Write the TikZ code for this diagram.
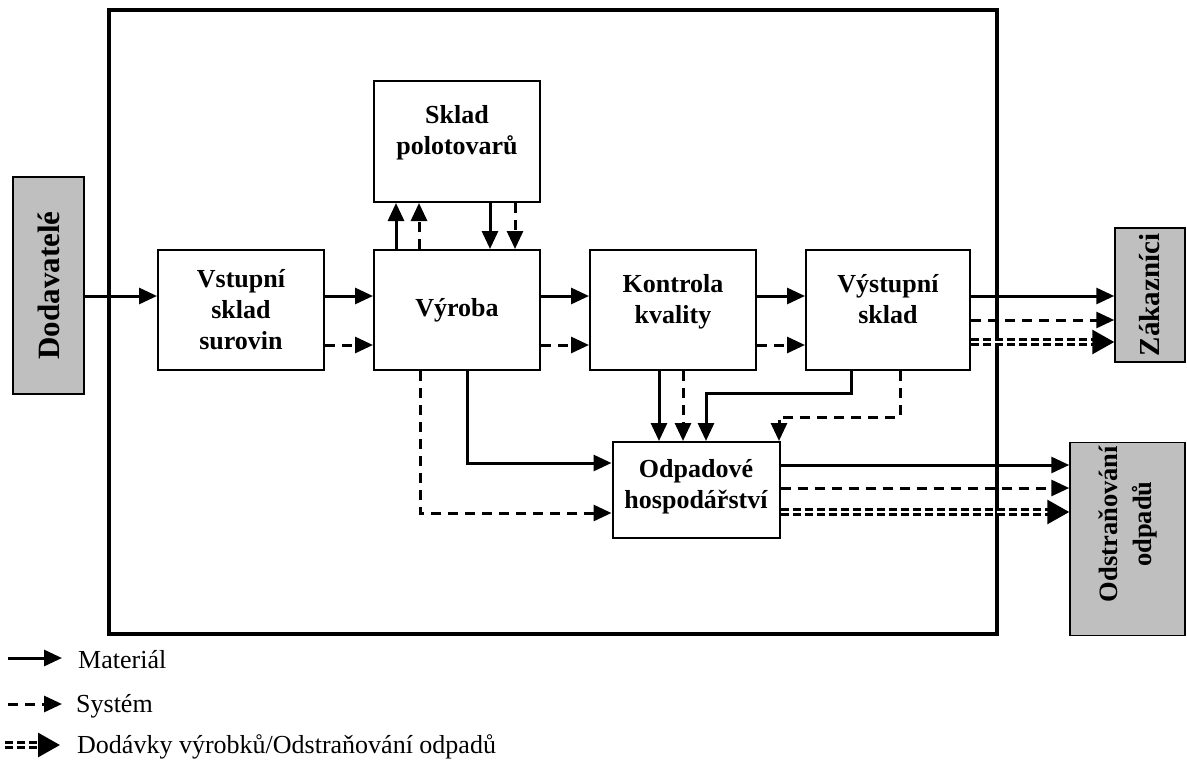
\documentclass[tikz,border=0pt]{standalone}
\usepackage{fontspec}
\setmainfont{Liberation Serif}
\usetikzlibrary{positioning,arrows.meta}

\begin{document}
\begin{tikzpicture}[x=1pt, y=-1pt,
        box/.style = {draw, line width=2pt, minimum width=166pt, minimum height=120pt, align=center,
                      font=\fontsize{26}{31}\selectfont\bfseries},
        ext/.style = {draw, line width=1.5pt, fill=black!25, rotate=90, align=center,
                      font=\fontsize{29}{34}\selectfont\bfseries},
        mat/.style = {line width=3pt, -{Triangle[length=18pt,width=16pt]}},
        sys/.style = {mat, dash pattern=on 10pt off 7pt},
        dlv/.style = {double, double distance=2.5pt, line width=3pt, dash pattern=on 8pt off 4pt,
                      -{Triangle[length=22pt,width=24pt]}},
        leg/.style = {anchor=west, inner sep=0pt, font=\fontsize{26}{30}\selectfont}]
                \useasboundingbox (0,0) rectangle (1187,769);
                
                \draw[line width=4pt] (109,10) rectangle (997,634);
                
                \node[box] (vstup) at (241,310) {Vstupní\\sklad\\surovin};
                \node[box, right=48pt of vstup] (vyroba) {Výroba};
                \node[box, text depth=22pt, right=48pt of vyroba] (kontrola) {Kontrola\\kvality};
                \node[box, text depth=22pt, minimum width=164pt, right=48pt of kontrola] (vystup) {Výstupní\\sklad};
                
                \node[box, text depth=24pt, minimum height=121pt, above=46pt of vyroba] (sklad) {Sklad\\polotovarů};
                \node[box, text depth=12pt, minimum width=167pt, minimum height=96pt, below=70pt of kontrola, xshift=23pt] (odpad) {Odpadové\\hospodářství};
                
                \node[ext, minimum width=217pt, minimum height=71pt, font=\fontsize{31}{36}\selectfont\bfseries] (dodav) at (48.5,285.5) {Dodavatelé};
                \node[ext, minimum width=134pt, minimum height=70pt] (zak) at (1150,295) {Zákazníci};
                \node[ext, minimum width=188pt, minimum height=115pt, font=\fontsize{26.5}{34}\selectfont\bfseries] (odstr) at (1127.5,539)
                    {\hspace*{30pt}Odstraňování\\\hspace*{30pt}odpadů};
                
                
                \draw[mat] ([yshift=14pt]vstup.west -| dodav.south) -- ([yshift=14pt]vstup.west);
                
                \draw[mat] ([yshift=14pt]vstup.east) -- ([yshift=14pt]vyroba.west);
                \draw[sys] ([yshift=-35pt]vstup.east) -- ([yshift=-35pt]vyroba.west);
                \draw[mat] ([yshift=14pt]vyroba.east) -- ([yshift=14pt]kontrola.west);
                \draw[sys] ([yshift=-35pt]vyroba.east) -- ([yshift=-35pt]kontrola.west);
                \draw[mat] ([yshift=14pt]kontrola.east) -- ([yshift=14pt]vystup.west);
                \draw[sys] ([yshift=-35pt]kontrola.east) -- ([yshift=-35pt]vystup.west);
                
                \draw[mat] ([yshift=14pt]vystup.east) -- ([yshift=14pt]vystup.east -| zak.north);
                \draw[sys] ([yshift=-10pt]vystup.east) -- ([yshift=-10pt]vystup.east -| zak.north);
                \draw[dlv] ([yshift=-32pt]vystup.east) -- ([yshift=-32pt]vystup.east -| zak.north);
                
                \draw[mat] ([xshift=-61pt]vyroba.north) -- ([xshift=-61pt]vyroba.north |- sklad.south);
                \draw[sys] ([xshift=-38pt]vyroba.north) -- ([xshift=-38pt]vyroba.north |- sklad.south);
                \draw[mat] ([xshift=33pt]sklad.south) -- ([xshift=33pt]sklad.south |- vyroba.north);
                \draw[sys] ([xshift=58pt]sklad.south) -- ([xshift=58pt]sklad.south |- vyroba.north);
                
                \draw[mat] ([xshift=-14pt]kontrola.south) -- ([xshift=-14pt]kontrola.south |- odpad.north);
                \draw[sys] ([xshift=10pt]kontrola.south) -- ([xshift=10pt]kontrola.south |- odpad.north);
                \draw[mat] ([xshift=-37pt]vystup.south) -- ++(0,22) -| ([xshift=10pt]odpad.north);
                \draw[sys] ([xshift=12pt]vystup.south) -- ++(0,46) -| ([xshift=83pt]odpad.north);
                
                \draw[mat] ([xshift=10pt]vyroba.south) |- ([yshift=27pt]odpad.west);
                \draw[sys] ([xshift=-37pt]vyroba.south) |- ([yshift=-23pt]odpad.west);
                
                \draw[mat] ([yshift=25pt]odpad.east) -- ([yshift=25pt]odpad.east -| odstr.north);
                \draw[sys] ([yshift=2pt]odpad.east) -- ([yshift=2pt]odpad.east -| odstr.north);
                \draw[dlv] ([yshift=-22pt]odpad.east) -- ([yshift=-22pt]odpad.east -| odstr.north);
                
                % legend
                \coordinate (m0) at (8,658);
                \coordinate (m1) at (62,658);
                \coordinate (s0) at (8,704);
                \coordinate (s1) at (62,704);
                \coordinate (d0) at (5,745);
                \coordinate (d1) at (60,745);
                \draw[mat] (m0) -- (m1);
                \draw[sys] (s0) -- (s1);
                \draw[dlv] (d0) -- (d1);
                \node[leg] (lmat) at (78,660) {Materiál};
                \node[leg] (lsys) at (76,706) {Systém};
                \node[leg] (ldlv) at (77,747) {Dodávky výrobků/Odstraňování odpadů};
            \end{tikzpicture}
\end{document}
